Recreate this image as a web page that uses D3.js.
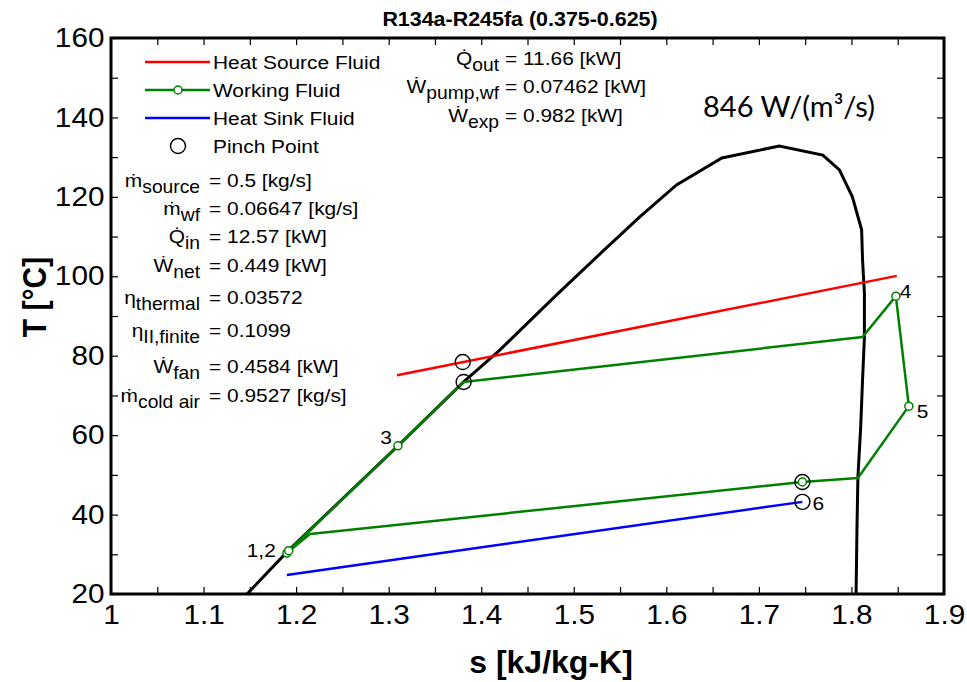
<!DOCTYPE html>
<html>
<head>
<meta charset="utf-8">
<script src="https://cdn.jsdelivr.net/npm/d3@7"></script>
<style>
  body { margin: 0; background: #fff; }
  svg { display: block; }
</style>
</head>
<body>
<svg id="chart" width="967" height="682"></svg>
<script>
// ---- data ----------------------------------------------------------------
const sTicks = [1, 1.1, 1.2, 1.3, 1.4, 1.5, 1.6, 1.7, 1.8, 1.9];
const sMinorTicks = [1, 1.05, 1.1, 1.15, 1.2, 1.25, 1.3, 1.35, 1.4, 1.45, 1.5, 1.55, 1.6, 1.65, 1.7, 1.75, 1.8, 1.85, 1.9];
const TTicks = [20, 40, 60, 80, 100, 120, 140, 160];
const TMinorTicks = [20, 30, 40, 50, 60, 70, 80, 90, 100, 110, 120, 130, 140, 150, 160];

// saturation dome of the mixture
const domeS = [1.147, 1.191, 1.310, 1.381, 1.420, 1.480, 1.530, 1.571, 1.611, 1.660, 1.722, 1.769, 1.787, 1.801, 1.811, 1.812, 1.814, 1.814, 1.812, 1.810, 1.807, 1.806, 1.805];
const domeT = [20, 30.8, 57.3, 73.4, 81.4, 95.0, 106.0, 114.9, 123.0, 129.8, 132.8, 130.5, 126.8, 120.0, 111.7, 104.1, 95.8, 84.7, 73.9, 62.1, 49.5, 36.9, 20];

// heat source and heat sink fluids
const sourceS = [1.309, 1.849];
const sourceT = [75.1, 100.1];
const sinkS = [1.190, 1.747];
const sinkT = [24.8, 43.2];

// working fluid cycle path
const wfS = [1.190, 1.192, 1.310, 1.381, 1.812, 1.848, 1.862, 1.807, 1.747, 1.215, 1.190];
const wfT = [30.3, 30.9, 57.3, 73.4, 84.7, 95.0, 67.3, 49.2, 48.2, 35.1, 30.3];

// marked state points
const stateS = [1.190, 1.192, 1.310, 1.848, 1.862, 1.747];
const stateT = [30.3, 30.9, 57.3, 95.0, 67.3, 48.2];

// pinch points
const pinchS = [1.380, 1.381, 1.747, 1.747];
const pinchT = [78.4, 73.4, 48.2, 43.2];

// state labels
const stateLabels = ["1,2", "3", "4", "5", "6"];
const stateLabelS = [1.191, 1.310, 1.848, 1.862, 1.747];
const stateLabelT = [30.6, 57.3, 95.0, 67.3, 43.2];

const legendNames = ["Heat Source Fluid", "Working Fluid", "Heat Sink Fluid", "Pinch Point"];

const leftStatNames = [["ṁ", "source"], ["ṁ", "wf"], ["Q\u0307", "in"], ["Ẇ", "net"], ["η", "thermal"], ["η", "II,finite"], ["Ẇ", "fan"], ["ṁ", "cold air"]];
const leftStatValues = ["0.5 [kg/s]", "0.06647 [kg/s]", "12.57 [kW]", "0.449 [kW]", "0.03572", "0.1099", "0.4584 [kW]", "0.9527 [kg/s]"];
const topStatNames = [["Q\u0307", "out"], ["Ẇ", "pump,wf"], ["Ẇ", "exp"]];
const topStatValues = [" 11.66 [kW]", "  0.07462 [kW]", " 0.982 [kW]"];

const titleText = "R134a-R245fa (0.375-0.625)";
const powerDensityText = "846 W/(m³/s)";

// ---- drawing ---------------------------------------------------------------
const FONT = '"Liberation Sans", Arial, Helvetica, sans-serif';
const SX = 1.1;          // horizontal glyph stretch
const FS = 19;           // body text size
const SUB = 17.5;        // subscript size

const RED = "#ff0000", GREEN = "#008000", BLUE = "#0000ff";

const svg = d3.select("#chart");
const pLeft = 111, pRight = 944, pTop = 38, pBottom = 594;

const x = d3.scaleLinear().domain([1, 1.9]).range([pLeft, pRight]);
const y = d3.scaleLinear().domain([20, 160]).range([pBottom, pTop]);

svg.append("rect").attr("width", 967).attr("height", 682).attr("fill", "#fff");

svg.append("defs").append("clipPath").attr("id", "plotArea")
  .append("rect").attr("x", pLeft).attr("y", pTop)
  .attr("width", pRight - pLeft).attr("height", pBottom - pTop);

// text helper: a group that stretches glyphs horizontally
function label(parent, px, py, parts, opts = {}) {
  const size = opts.size || FS;
  const g = parent.append("g")
    .attr("transform", `translate(${px},${py}) scale(${opts.sx || SX},1)`);
  const t = g.append("text")
    .attr("font-family", opts.family || FONT)
    .attr("font-size", size)
    .attr("font-weight", opts.weight || "normal")
    .attr("text-anchor", opts.anchor || "start")
    .attr("fill", "#000");
  if (typeof parts === "string") {
    t.text(parts);
  } else {
    // [main, subscript]
    t.append("tspan").text(parts[0]);
    t.append("tspan").attr("font-size", SUB).attr("dy", 5.5).text(parts[1]);
  }
  return g;
}

// tick marks on all four sides, pointing inward
function ticks(axis, tx, ty) {
  const g = svg.append("g").attr("transform", `translate(${tx},${ty})`).call(axis);
  g.select(".domain").remove();
  g.selectAll("text").remove();
  g.selectAll("line").attr("stroke", "#000").attr("stroke-width", 1.2);
}
ticks(d3.axisBottom(x).tickValues(sMinorTicks).tickSize(-7), 0, pBottom);
ticks(d3.axisTop(x).tickValues(sMinorTicks).tickSize(-7), 0, pTop);
ticks(d3.axisLeft(y).tickValues(TMinorTicks).tickSize(-7), pLeft, 0);
ticks(d3.axisRight(y).tickValues(TMinorTicks).tickSize(-7), pRight, 0);

// tick labels
const xLab = svg.append("g").attr("transform", `translate(0,${pBottom})`)
  .call(d3.axisBottom(x).tickValues(sTicks).tickSize(0).tickPadding(11).tickFormat(d => String(d)));
xLab.select(".domain").remove();
xLab.selectAll("text")
  .attr("font-family", FONT).attr("font-size", 27).attr("fill", "#000")
  .attr("transform", `scale(${SX},1)`);

const yLab = svg.append("g").attr("transform", `translate(${pLeft},0)`)
  .call(d3.axisLeft(y).tickValues(TTicks).tickSize(0).tickPadding(6).tickFormat(d => String(d)));
yLab.select(".domain").remove();
yLab.selectAll("text")
  .attr("font-family", FONT).attr("font-size", 27).attr("fill", "#000")
  .attr("transform", `scale(${SX},1)`);

// axis titles
label(svg, 551, 673, "s [kJ/kg-K]", { size: 32, weight: "bold", anchor: "middle", sx: 1.0 });
svg.append("g").attr("transform", "translate(46,297) scale(1.1,1) rotate(-90)")
  .append("text")
  .attr("font-family", FONT).attr("font-size", 30).attr("font-weight", "bold")
  .attr("text-anchor", "middle").attr("fill", "#000")
  .text("T [°C]");

// title
label(svg, 520, 26, titleText, { size: 19.5, weight: "bold", anchor: "middle" });

// plot content
const plot = svg.append("g").attr("clip-path", "url(#plotArea)");
const line = d3.line().x(d => x(d[0])).y(d => y(d[1]));

plot.append("path")
  .datum(d3.zip(domeS, domeT))
  .attr("d", line).attr("fill", "none")
  .attr("stroke", "#000").attr("stroke-width", 3);

plot.append("path")
  .datum(d3.zip(sourceS, sourceT))
  .attr("d", line).attr("fill", "none")
  .attr("stroke", RED).attr("stroke-width", 2.5);

plot.append("path")
  .datum(d3.zip(sinkS, sinkT))
  .attr("d", line).attr("fill", "none")
  .attr("stroke", BLUE).attr("stroke-width", 2.5);

plot.append("path")
  .datum(d3.zip(wfS, wfT))
  .attr("d", line).attr("fill", "none")
  .attr("stroke", GREEN).attr("stroke-width", 2.5)
  .attr("stroke-linejoin", "round");

plot.selectAll("circle.state")
  .data(d3.zip(stateS, stateT)).join("circle")
  .attr("class", "state")
  .attr("cx", d => x(d[0])).attr("cy", d => y(d[1])).attr("r", 4)
  .attr("fill", "#fff").attr("stroke", GREEN).attr("stroke-width", 1.5);

plot.selectAll("circle.pinch")
  .data(d3.zip(pinchS, pinchT)).join("circle")
  .attr("class", "pinch")
  .attr("cx", d => x(d[0])).attr("cy", d => y(d[1])).attr("r", 7.5)
  .attr("fill", "none").attr("stroke", "#000").attr("stroke-width", 1.4);

// state labels, offset from their points
const labelOffsets = [[-12, 5], [-6, -2], [4, 2], [8, 12], [10, 8]];
const labelAnchors = ["end", "end", "start", "start", "start"];
stateLabels.forEach((t, i) => {
  label(svg, x(stateLabelS[i]) + labelOffsets[i][0], y(stateLabelT[i]) + labelOffsets[i][1], t,
    { anchor: labelAnchors[i] });
});

// legend
const legendColors = [RED, GREEN, BLUE, null];
legendNames.forEach((name, i) => {
  const ly = 62 + i * 28;
  if (legendColors[i]) {
    svg.append("line").attr("x1", 145).attr("x2", 210).attr("y1", ly).attr("y2", ly)
      .attr("stroke", legendColors[i]).attr("stroke-width", 2.5);
  }
  if (i === 1) {
    svg.append("circle").attr("cx", 178).attr("cy", ly).attr("r", 4)
      .attr("fill", "#fff").attr("stroke", GREEN).attr("stroke-width", 1.5);
  }
  if (i === 3) {
    svg.append("circle").attr("cx", 178).attr("cy", ly).attr("r", 7.5)
      .attr("fill", "none").attr("stroke", "#000").attr("stroke-width", 1.4);
  }
  label(svg, 213, ly + 6.5, name, { size: FS });
});

// result annotations, left column
const leftRows = [187, 215, 243, 272, 304, 337, 373, 402];
leftStatNames.forEach((nm, i) => {
  label(svg, 200, leftRows[i], nm, { anchor: "end" });
  label(svg, 209, leftRows[i], "= " + leftStatValues[i]);
});

// result annotations, top column
const topRows = [65, 93, 122];
topStatNames.forEach((nm, i) => {
  label(svg, 499, topRows[i], nm, { anchor: "end" });
  label(svg, 505, topRows[i], "=" + topStatValues[i]);
});

// power density note
svg.append("text")
  .attr("x", 703).attr("y", 117)
  .attr("font-family", "Lato, 'Open Sans', sans-serif")
  .attr("font-size", 29).attr("fill", "#000")
  .text(powerDensityText);

// plot frame
svg.append("rect")
  .attr("x", pLeft).attr("y", pTop)
  .attr("width", pRight - pLeft).attr("height", pBottom - pTop)
  .attr("fill", "none").attr("stroke", "#000").attr("stroke-width", 3);
</script>
</body>
</html>
